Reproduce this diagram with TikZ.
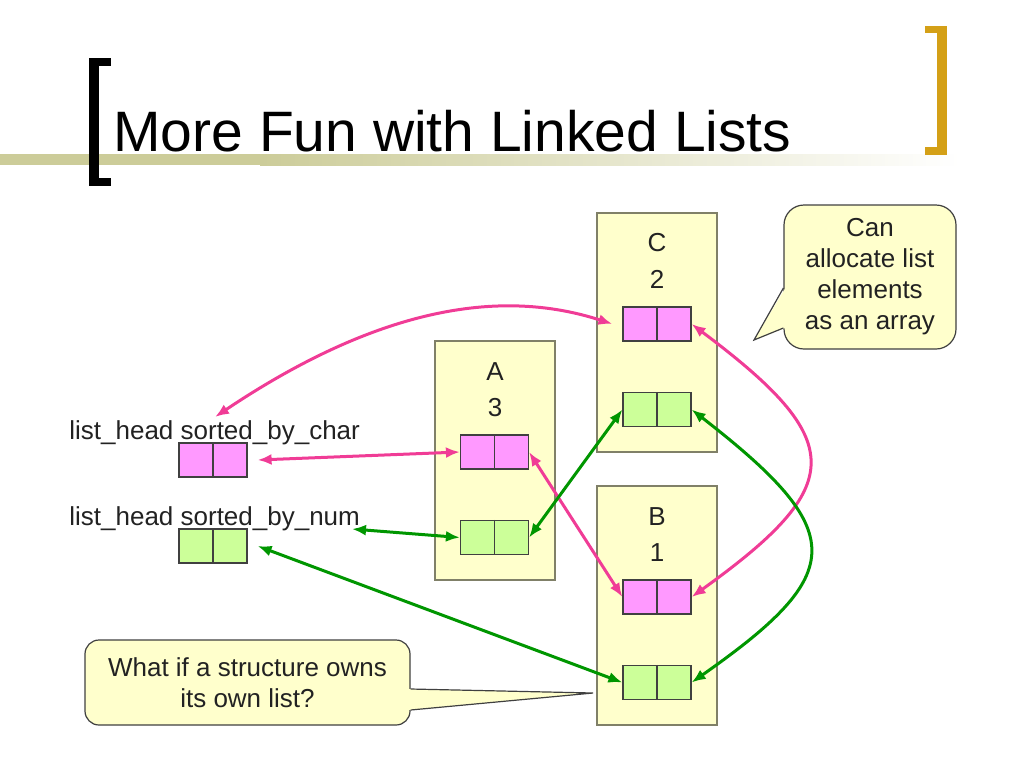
\documentclass[tikz,border=0pt]{standalone}
\usepackage{fontspec}
\setmainfont{Liberation Sans}
\usepackage{xcolor}
\usetikzlibrary{arrows.meta,calc,positioning}

\definecolor{bandolive}{RGB}{204,204,153}
\definecolor{bracketgold}{RGB}{212,160,23}
\definecolor{structfill}{RGB}{255,255,204}
\definecolor{structedge}{RGB}{128,128,104}
\definecolor{charfill}{RGB}{255,153,255}
\definecolor{numfill}{RGB}{204,255,153}
\definecolor{charline}{RGB}{240,60,150}
\definecolor{numline}{RGB}{0,150,0}
\definecolor{inktext}{RGB}{34,34,34}

\begin{document}
\begin{tikzpicture}[x=0.5pt,y=-0.5pt,node distance=18pt]
  \tikzstyle{every node}=[font=\fontsize{13pt}{15.5pt}\selectfont, text=inktext]
  \tikzstyle{structbox}=[draw=structedge, fill=structfill, line width=0.6pt, minimum width=60pt, minimum height=119.5pt, inner sep=0]
  \tikzstyle{elem}=[draw=black!75, line width=0.6pt, minimum width=34pt, minimum height=17pt, inner sep=0]
  \tikzstyle{charelem}=[elem, fill=charfill]
  \tikzstyle{numelem}=[elem, fill=numfill]
  \tikzstyle{note}=[draw=black!75, fill=structfill, line width=0.6pt, align=center, inner sep=0]
  \tikzstyle{charlink}=[color=charline, line width=1.5pt, {Latex[length=7pt,width=5.5pt]}-{Latex[length=7pt,width=5.5pt]}]
  \tikzstyle{numlink}=[color=numline, line width=1.5pt, {Latex[length=7pt,width=5.5pt]}-{Latex[length=7pt,width=5.5pt]}]
  \useasboundingbox (0,0) rectangle (1024,768);

  \fill[bandolive] (0,154) rectangle (260,165);
  \shade[left color=bandolive, right color=white] (260,154) rectangle (960,165);
  \fill[black] (89,58) rectangle (99,186);
  \fill[black] (89,58) rectangle (111,66);
  \fill[black] (89,178) rectangle (111,186);
  \fill[bracketgold] (937,26) rectangle (947,155);
  \fill[bracketgold] (925,26) rectangle (947,33);
  \fill[bracketgold] (925,147) rectangle (947,155);
  \node[anchor=base west, inner sep=0, font=\fontsize{28.5pt}{34pt}\selectfont, text=black] (title) at (113,151) {More Fun with Linked Lists};

  \node[structbox] (abox) at (495,460.5) {};
  \node[structbox] (cbox) at (657,332.5) {};
  \node[structbox] (bbox) at (657,605.5) {};
  \node (aname) at (495,372) {A};
  \node (aval) [below of=aname] {3};
  \node (cname) at (657,243) {C};
  \node (cval) [below of=cname] {2};
  \node (bname) at (657,517) {B};
  \node (bval) [below of=bname] {1};

  \node[anchor=base west, inner sep=0] (charlabel) at (69,439) {list\_head sorted\_by\_char};
  \node[anchor=base west, inner sep=0] (numlabel) at (69,525) {list\_head sorted\_by\_num};

  \node[charelem] (headc) at (213,460) {};
  \node[numelem] (headn) at (213,546) {};
  \node[charelem] (ac) at (494.5,452) {};
  \node[numelem] (an) at (494.5,537.5) {};
  \node[charelem] (cc) at (657,324) {};
  \node[numelem] (cn) at (657,409.5) {};
  \node[charelem] (bc) at (657,597) {};
  \node[numelem] (bn) at (657,682.5) {};
  \foreach \e in {headc,headn,ac,an,cc,cn,bc,bn}
    \draw[draw=black!75, line width=0.6pt] (\e.north) -- (\e.south);

  \coordinate (chartip) at (215,417);
  \coordinate (numtip) at (352,529);
  \coordinate (cantip) at (754,340);
  \coordinate (ownstip) at (593,693);

  \path[charlink]
  ([xshift=5pt]headc.east) edge (ac.west)
  (ac.east) edge (bc.west)
  ;
  \draw[charlink] (chartip) .. controls +(185,-124) and +(-93,-30) .. ([xshift=-5pt]cc.west);
  \draw[charlink] (cc.east) .. controls +(156,117) and +(156,-112) .. (bc.east);
  \draw[numlink] (cn.east) .. controls +(157,122) and +(157,-110) .. (bn.east);
  \path[numlink]
  (numtip) edge (an.west)
  ([xshift=5pt]headn.east) edge (bn.west)
  (an.east) edge (cn.west)
  ;

  \node[note, minimum width=86pt, minimum height=72pt, rounded corners=10pt] (can) at (870,277) {Can\\allocate list\\elements\\as an array};
  \fill[structfill] ($(can.west)+(2,11)$) -- (cantip) -- ($(can.west)+(2,51)$) -- cycle;
  \draw[draw=black!75, line width=0.6pt] ($(can.west)+(0,11)$) -- (cantip) -- ($(can.west)+(0,51)$);

  \node[note, minimum width=162.5pt, minimum height=42.5pt, rounded corners=7pt] (owns) at (247.5,682.5) {What if a structure owns\\its own list?};
  \fill[structfill] ($(owns.east)+(-2,6.5)$) -- (ownstip) -- ($(owns.east)+(-2,27.5)$) -- cycle;
  \draw[draw=black!75, line width=0.6pt] ($(owns.east)+(0,6.5)$) -- (ownstip) -- ($(owns.east)+(0,27.5)$);
\end{tikzpicture}
\end{document}
